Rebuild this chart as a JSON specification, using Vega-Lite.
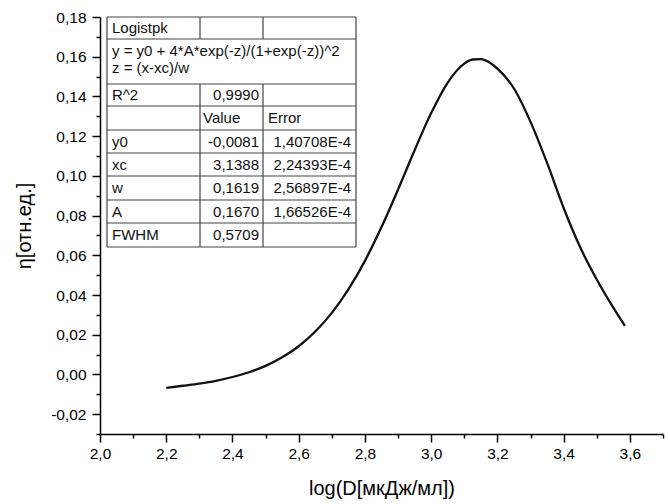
{
  "$schema": "https://vega.github.io/schema/vega-lite/v6.json",
  "width": 563,
  "height": 417,
  "autosize": {"type": "none"},
  "padding": {"left": 100, "top": 17, "right": 7, "bottom": 70},
  "background": "white",
  "config": {
    "view": {"stroke": null},
    "font": "Liberation Sans",
    "axis": {
      "grid": false,
      "domainColor": "#000",
      "tickColor": "#000",
      "labelColor": "#000",
      "titleColor": "#000",
      "labelFont": "Liberation Sans",
      "titleFont": "Liberation Sans",
      "titleFontWeight": "normal"
    }
  },
  "datasets": {
    "curve": [
      {"x": 2.2, "y": -0.0068},
      {"x": 2.25, "y": -0.0057},
      {"x": 2.3, "y": -0.0046},
      {"x": 2.35, "y": -0.0032},
      {"x": 2.4, "y": -0.0013},
      {"x": 2.45, "y": 0.0011},
      {"x": 2.5, "y": 0.0043},
      {"x": 2.55, "y": 0.0086},
      {"x": 2.6, "y": 0.0142},
      {"x": 2.65, "y": 0.0216},
      {"x": 2.7, "y": 0.031},
      {"x": 2.75, "y": 0.0428},
      {"x": 2.8, "y": 0.0572},
      {"x": 2.85, "y": 0.0742},
      {"x": 2.9, "y": 0.0931},
      {"x": 2.95, "y": 0.1129},
      {"x": 3.0, "y": 0.1316},
      {"x": 3.05, "y": 0.147},
      {"x": 3.1, "y": 0.1565},
      {"x": 3.125, "y": 0.1586},
      {"x": 3.15, "y": 0.1588},
      {"x": 3.175, "y": 0.1572},
      {"x": 3.2, "y": 0.154},
      {"x": 3.25, "y": 0.144},
      {"x": 3.3, "y": 0.1272},
      {"x": 3.35, "y": 0.1065},
      {"x": 3.4, "y": 0.0838},
      {"x": 3.45, "y": 0.064},
      {"x": 3.5, "y": 0.0478},
      {"x": 3.55, "y": 0.0336},
      {"x": 3.585, "y": 0.0244}
    ],
    "grid": [
      {"x1": 2.0211, "x2": 2.773, "y1": 0.18, "y2": 0.18},
      {"x1": 2.0211, "x2": 2.773, "y1": 0.168921, "y2": 0.168921},
      {"x1": 2.0211, "x2": 2.773, "y1": 0.146259, "y2": 0.146259},
      {"x1": 2.0211, "x2": 2.773, "y1": 0.135179, "y2": 0.135179},
      {"x1": 2.0211, "x2": 2.773, "y1": 0.123093, "y2": 0.123093},
      {"x1": 2.0211, "x2": 2.773, "y1": 0.11151, "y2": 0.11151},
      {"x1": 2.0211, "x2": 2.773, "y1": 0.099927, "y2": 0.099927},
      {"x1": 2.0211, "x2": 2.773, "y1": 0.087841, "y2": 0.087841},
      {"x1": 2.0211, "x2": 2.773, "y1": 0.076258, "y2": 0.076258},
      {"x1": 2.0211, "x2": 2.773, "y1": 0.064172, "y2": 0.064172},
      {"x1": 2.0211, "x2": 2.0211, "y1": 0.18, "y2": 0.064172},
      {"x1": 2.773, "x2": 2.773, "y1": 0.18, "y2": 0.064172},
      {"x1": 2.302, "x2": 2.302, "y1": 0.18, "y2": 0.168921},
      {"x1": 2.4922, "x2": 2.4922, "y1": 0.18, "y2": 0.168921},
      {"x1": 2.302, "x2": 2.302, "y1": 0.146259, "y2": 0.064172},
      {"x1": 2.4922, "x2": 2.4922, "y1": 0.146259, "y2": 0.064172}
    ],
    "textLeft": [
      {"x": 2.03623, "y": 0.17446, "t": "Logistpk"},
      {"x": 2.03623, "y": 0.162878, "t": "y = y0 + 4*A*exp(-z)/(1+exp(-z))^2"},
      {"x": 2.03623, "y": 0.154316, "t": "z = (x-xc)/w"},
      {"x": 2.03623, "y": 0.140719, "t": "R^2"},
      {"x": 2.311, "y": 0.129136, "t": "Value"},
      {"x": 2.50728, "y": 0.129136, "t": "Error"},
      {"x": 2.03623, "y": 0.117302, "t": "y0"},
      {"x": 2.03623, "y": 0.105719, "t": "xc"},
      {"x": 2.03623, "y": 0.093884, "t": "w"},
      {"x": 2.03623, "y": 0.082049, "t": "A"},
      {"x": 2.03623, "y": 0.070215, "t": "FWHM"}
    ],
    "textRight": [
      {"x": 2.4801, "y": 0.140719, "t": "0,9990"},
      {"x": 2.4801, "y": 0.117302, "t": "-0,0081"},
      {"x": 2.4801, "y": 0.105719, "t": "3,1388"},
      {"x": 2.4801, "y": 0.093884, "t": "0,1619"},
      {"x": 2.4801, "y": 0.082049, "t": "0,1670"},
      {"x": 2.4801, "y": 0.070215, "t": "0,5709"},
      {"x": 2.7579, "y": 0.117302, "t": "1,40708E-4"},
      {"x": 2.7579, "y": 0.105719, "t": "2,24393E-4"},
      {"x": 2.7579, "y": 0.093884, "t": "2,56897E-4"},
      {"x": 2.7579, "y": 0.082049, "t": "1,66526E-4"}
    ]
  },
  "layer": [
    {
      "data": {"name": "curve"},
      "mark": {"type": "line", "color": "#111111", "strokeWidth": 2.3, "interpolate": "monotone"},
      "encoding": {
        "x": {
          "field": "x", "type": "quantitative",
          "scale": {"domain": [2.0, 3.7], "nice": false, "zero": false},
          "axis": {
            "orient": "bottom",
            "values": [2.0, 2.2, 2.4, 2.6, 2.8, 3.0, 3.2, 3.4, 3.6],
            "tickSize": 8, "tickWidth": 1.5, "domainWidth": 1.5,
            "labelFontSize": 15.5, "labelPadding": 4,
            "labelFlush": false, "labelOverlap": false,
            "labelExpr": "replace(format(datum.value, '.1f'), '.', ',')",
            "title": "log(D[мкДж/мл])", "titleFontSize": 20, "titlePadding": 17
          }
        },
        "y": {
          "field": "y", "type": "quantitative",
          "scale": {"domain": [-0.03, 0.18], "nice": false, "zero": false},
          "axis": {
            "orient": "left",
            "values": [-0.02, 0.0, 0.02, 0.04, 0.06, 0.08, 0.1, 0.12, 0.14, 0.16, 0.18],
            "tickSize": 8, "tickWidth": 1.5, "domainWidth": 1.5,
            "labelFontSize": 15.5, "labelPadding": 6,
            "labelFlush": false, "labelOverlap": false,
            "labelExpr": "replace(replace(format(datum.value, '.2f'), '.', ','), '−', '-')",
            "title": "η[отн.ед.]", "titleFontSize": 20, "titlePadding": 16
          }
        }
      }
    },
    {
      "data": {"name": "grid"},
      "mark": {"type": "rule", "color": "#444444", "strokeWidth": 1.2},
      "encoding": {
        "x": {
          "field": "x1", "type": "quantitative",
          "axis": {
            "orient": "bottom",
            "values": [2.1, 2.3, 2.5, 2.7, 2.9, 3.1, 3.3, 3.5, 3.7],
            "tickSize": 4, "tickWidth": 1.5, "labels": false, "domain": false, "title": null
          }
        },
        "x2": {"field": "x2"},
        "y": {
          "field": "y1", "type": "quantitative",
          "axis": {
            "orient": "left",
            "values": [-0.03, -0.01, 0.01, 0.03, 0.05, 0.07, 0.09, 0.11, 0.13, 0.15, 0.17],
            "tickSize": 4, "tickWidth": 1.5, "labels": false, "domain": false, "title": null
          }
        },
        "y2": {"field": "y2"}
      }
    },
    {
      "data": {"name": "textLeft"},
      "mark": {"type": "text", "align": "left", "baseline": "middle", "fontSize": 15, "font": "Liberation Sans", "color": "#111111"},
      "encoding": {
        "x": {"field": "x", "type": "quantitative", "axis": null},
        "y": {"field": "y", "type": "quantitative", "axis": null},
        "text": {"field": "t"}
      }
    },
    {
      "data": {"name": "textRight"},
      "mark": {"type": "text", "align": "right", "baseline": "middle", "fontSize": 15, "font": "Liberation Sans", "color": "#111111"},
      "encoding": {
        "x": {"field": "x", "type": "quantitative", "axis": null},
        "y": {"field": "y", "type": "quantitative", "axis": null},
        "text": {"field": "t"}
      }
    }
  ],
  "resolve": {"axis": {"x": "independent", "y": "independent"}}
}
